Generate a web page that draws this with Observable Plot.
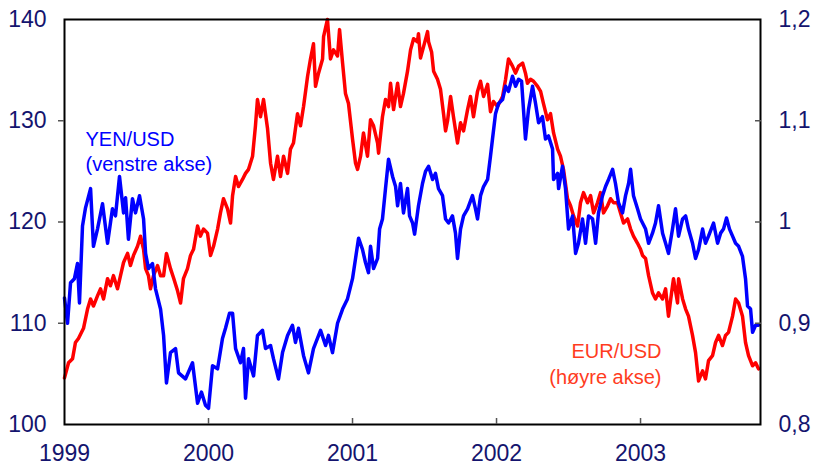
<!DOCTYPE html>
<html><head><meta charset="utf-8">
<script src="https://cdn.jsdelivr.net/npm/d3@7"></script>
<script src="https://cdn.jsdelivr.net/npm/@observablehq/plot@0.6"></script>
<style>
html,body{margin:0;padding:0;background:#fff;}
#chart{width:815px;height:468px;}
</style></head><body><div id="chart"></div>
<script>
// Tick labels
const years = [1999, 2000, 2001, 2002, 2003];
const yenTicks = [100, 110, 120, 130, 140];
const eurTicks = [0.8, 0.9, 1.0, 1.1, 1.2];

// Series labels
const yenLabel = "YEN/USD\n(venstre akse)";
const eurLabel = "EUR/USD\n(høyre akse)";

// YEN/USD (left axis), time in decimal years
const yenT = [1999.000,1999.021,1999.042,1999.069,1999.090,1999.104,1999.125,1999.146,1999.181,1999.201,1999.229,1999.264,1999.299,1999.333,1999.354,1999.382,1999.410,1999.424,1999.444,1999.472,1999.493,1999.521,1999.549,1999.563,1999.583,1999.611,1999.632,1999.667,1999.688,1999.708,1999.736,1999.771,1999.792,1999.840,1999.889,1999.924,1999.951,1999.979,2000.000,2000.028,2000.063,2000.097,2000.118,2000.146,2000.167,2000.188,2000.222,2000.243,2000.257,2000.278,2000.313,2000.340,2000.375,2000.396,2000.431,2000.451,2000.486,2000.514,2000.549,2000.583,2000.604,2000.625,2000.660,2000.694,2000.729,2000.778,2000.813,2000.833,2000.861,2000.896,2000.931,2000.965,2001.000,2001.021,2001.042,2001.069,2001.090,2001.111,2001.125,2001.146,2001.174,2001.188,2001.208,2001.229,2001.250,2001.278,2001.299,2001.313,2001.333,2001.354,2001.382,2001.396,2001.417,2001.431,2001.458,2001.486,2001.507,2001.528,2001.556,2001.576,2001.597,2001.625,2001.646,2001.667,2001.694,2001.715,2001.729,2001.750,2001.771,2001.799,2001.833,2001.854,2001.868,2001.889,2001.910,2001.938,2001.958,2001.972,2001.993,2002.014,2002.042,2002.063,2002.083,2002.111,2002.132,2002.153,2002.174,2002.201,2002.222,2002.250,2002.271,2002.292,2002.319,2002.340,2002.361,2002.389,2002.396,2002.424,2002.431,2002.458,2002.479,2002.493,2002.500,2002.528,2002.549,2002.569,2002.597,2002.618,2002.639,2002.667,2002.688,2002.708,2002.736,2002.757,2002.778,2002.806,2002.826,2002.847,2002.875,2002.896,2002.917,2002.931,2002.951,2002.979,2003.000,2003.014,2003.035,2003.056,2003.083,2003.104,2003.125,2003.153,2003.174,2003.194,2003.222,2003.243,2003.264,2003.292,2003.313,2003.333,2003.361,2003.382,2003.403,2003.431,2003.451,2003.472,2003.507,2003.535,2003.556,2003.576,2003.597,2003.618,2003.639,2003.660,2003.681,2003.708,2003.729,2003.743,2003.764,2003.778,2003.799,2003.819];
const yenV = [112.5,110.0,114.0,114.4,115.9,112.0,119.6,121.4,123.3,117.6,119.3,121.8,117.9,121.3,120.6,124.5,120.9,122.4,118.3,122.3,120.9,122.6,120.3,116.9,115.4,115.9,113.4,111.4,108.8,104.1,107.1,107.5,105.1,104.5,106.1,102.1,103.2,101.9,101.6,105.8,105.5,108.5,109.5,111.0,111.0,107.5,106.1,107.5,102.6,106.5,104.8,108.8,109.3,107.5,107.8,106.5,104.5,107.1,108.8,109.8,108.1,109.5,106.8,105.1,107.5,109.3,107.8,108.8,107.1,110.0,111.4,112.4,114.4,116.4,118.4,117.3,116.0,115.0,117.6,115.4,116.4,119.3,120.3,123.3,126.2,124.5,123.5,121.6,123.8,120.9,123.3,120.6,119.9,118.8,121.6,123.8,125.0,125.5,124.2,124.8,123.3,122.6,120.3,119.9,120.6,118.9,116.4,119.3,120.6,121.3,122.6,121.3,120.3,122.6,123.5,124.2,126.5,128.2,130.7,131.7,132.1,133.4,132.9,134.4,133.4,134.1,133.9,128.2,131.1,133.4,131.7,129.8,130.4,128.2,128.5,127.2,124.2,124.8,123.3,125.5,123.3,120.6,119.3,120.6,116.9,117.9,120.3,117.9,120.6,120.3,117.9,120.9,122.6,123.5,124.2,125.2,123.8,121.9,120.9,122.6,123.8,125.2,122.6,121.3,120.3,119.9,119.3,117.9,118.9,119.9,121.6,118.9,117.9,116.9,119.3,121.3,118.6,120.3,120.6,119.3,117.9,116.4,117.3,119.3,117.9,118.6,119.9,117.9,118.9,119.3,120.4,119.3,118.6,117.9,117.6,116.6,114.4,111.7,111.4,109.1,109.8,109.8];

// EUR/USD (right axis)
const eurT = [1999.000,1999.028,1999.056,1999.076,1999.097,1999.132,1999.160,1999.181,1999.201,1999.229,1999.250,1999.271,1999.299,1999.319,1999.340,1999.368,1999.389,1999.410,1999.438,1999.458,1999.479,1999.507,1999.528,1999.549,1999.563,1999.583,1999.597,1999.618,1999.646,1999.667,1999.688,1999.708,1999.736,1999.757,1999.785,1999.806,1999.826,1999.854,1999.875,1999.896,1999.924,1999.944,1999.965,1999.993,2000.014,2000.035,2000.063,2000.083,2000.104,2000.132,2000.153,2000.167,2000.188,2000.208,2000.236,2000.257,2000.278,2000.306,2000.326,2000.340,2000.361,2000.382,2000.410,2000.431,2000.451,2000.479,2000.500,2000.521,2000.549,2000.569,2000.590,2000.618,2000.639,2000.660,2000.688,2000.708,2000.729,2000.743,2000.764,2000.792,2000.799,2000.826,2000.847,2000.868,2000.896,2000.910,2000.931,2000.951,2000.972,2001.000,2001.021,2001.035,2001.056,2001.076,2001.104,2001.125,2001.146,2001.174,2001.181,2001.208,2001.229,2001.250,2001.264,2001.285,2001.313,2001.333,2001.354,2001.382,2001.403,2001.424,2001.451,2001.458,2001.472,2001.493,2001.521,2001.528,2001.549,2001.563,2001.590,2001.611,2001.632,2001.646,2001.660,2001.681,2001.701,2001.729,2001.750,2001.771,2001.799,2001.819,2001.840,2001.868,2001.889,2001.910,2001.938,2001.958,2001.979,2002.007,2002.042,2002.063,2002.083,2002.111,2002.132,2002.153,2002.181,2002.201,2002.215,2002.236,2002.257,2002.285,2002.306,2002.326,2002.354,2002.375,2002.396,2002.424,2002.444,2002.465,2002.493,2002.514,2002.535,2002.563,2002.583,2002.604,2002.632,2002.653,2002.674,2002.701,2002.722,2002.743,2002.771,2002.792,2002.813,2002.840,2002.861,2002.882,2002.910,2002.931,2002.951,2002.979,2003.000,2003.014,2003.035,2003.056,2003.083,2003.104,2003.125,2003.153,2003.174,2003.194,2003.222,2003.229,2003.257,2003.264,2003.292,2003.313,2003.333,2003.361,2003.382,2003.403,2003.431,2003.451,2003.472,2003.500,2003.521,2003.542,2003.569,2003.590,2003.611,2003.639,2003.660,2003.681,2003.708,2003.729,2003.750,2003.778,2003.799,2003.819];
const eurV = [0.846,0.861,0.865,0.881,0.885,0.895,0.914,0.924,0.917,0.927,0.934,0.924,0.944,0.937,0.947,0.934,0.947,0.960,0.969,0.957,0.967,0.976,0.986,0.973,0.954,0.947,0.934,0.947,0.957,0.947,0.947,0.969,0.954,0.945,0.932,0.920,0.944,0.954,0.967,0.973,0.996,0.986,0.993,0.989,0.967,0.976,0.993,1.009,1.023,1.013,0.999,1.026,1.045,1.035,1.042,1.048,1.052,1.065,1.095,1.121,1.104,1.121,1.092,1.058,1.042,1.065,1.045,1.065,1.048,1.072,1.078,1.107,1.095,1.114,1.144,1.161,1.176,1.134,1.147,1.161,1.183,1.200,1.161,1.170,1.164,1.190,1.157,1.127,1.117,1.082,1.058,1.052,1.065,1.088,1.065,1.101,1.095,1.078,1.068,1.104,1.121,1.114,1.137,1.111,1.137,1.114,1.127,1.149,1.170,1.181,1.178,1.186,1.162,1.173,1.188,1.178,1.168,1.149,1.141,1.131,1.107,1.090,1.100,1.124,1.104,1.078,1.098,1.090,1.111,1.124,1.104,1.129,1.139,1.124,1.136,1.109,1.119,1.114,1.124,1.141,1.161,1.154,1.147,1.154,1.157,1.147,1.137,1.141,1.139,1.134,1.129,1.117,1.101,1.107,1.088,1.072,1.065,1.052,1.023,1.016,1.006,0.996,1.019,1.029,1.019,1.026,1.009,1.019,1.029,1.009,1.016,1.023,1.019,1.019,1.009,0.999,1.003,0.993,0.986,0.979,0.973,0.967,0.964,0.947,0.930,0.924,0.930,0.924,0.934,0.907,0.937,0.944,0.920,0.944,0.924,0.914,0.907,0.888,0.871,0.843,0.853,0.845,0.863,0.868,0.881,0.888,0.878,0.888,0.891,0.907,0.924,0.920,0.907,0.881,0.868,0.858,0.861,0.855];

const yen = yenT.slice(0, Math.min(yenT.length, yenV.length)).map((t, i) => ({t, v: yenV[i]}));
const eur = eurT.slice(0, Math.min(eurT.length, eurV.length)).map((t, i) => ({t, v: eurV[i]}));

// map the right-axis (EUR) scale onto the left-axis (YEN) scale
const eurToLeft = e => yenTicks[0] + (e - eurTicks[0]) * (yenTicks[4] - yenTicks[0]) / (eurTicks[4] - eurTicks[0]);
const fmtEur = e => String(Math.round(e * 10) / 10).replace(".", ",");

const navy = "#14146e";
const tickGray = "#555";
const font = "'Liberation Sans', Arial, Helvetica, sans-serif";

const chart = Plot.plot({
  width: 815,
  height: 468,
  marginLeft: 64,
  marginRight: 55,
  marginTop: 19,
  marginBottom: 44,
  style: {fontFamily: font, background: "#fff"},
  x: {type: "linear", domain: [1999, 2003.833], axis: null},
  y: {domain: [yenTicks[0], yenTicks[4]], axis: null},
  marks: [
    // EUR/USD line (right axis)
    Plot.line(eur, {x: "t", y: d => eurToLeft(d.v), stroke: "#ff0000", strokeWidth: 3.5}),
    // YEN/USD line (left axis)
    Plot.line(yen, {x: "t", y: "v", stroke: "#0000ff", strokeWidth: 3.5}),
    Plot.frame({stroke: "#000", strokeWidth: 2}),
    // left axis: outward ticks + labels
    Plot.axisY({anchor: "left", ticks: yenTicks.slice(1, 4), tickSize: 6, tickFormat: () => "", stroke: tickGray, strokeWidth: 1.5, label: null}),
    Plot.axisY({anchor: "left", ticks: yenTicks, tickSize: 0, tickPadding: 18, tickFormat: d => String(d), fill: navy, fontSize: 23, label: null}),
    // right axis: inward ticks + labels
    Plot.axisY({anchor: "right", ticks: eurTicks.slice(1, 4).map(eurToLeft), tickSize: 6, dx: -6, tickFormat: () => "", stroke: tickGray, strokeWidth: 1.5, label: null}),
    Plot.axisY({anchor: "right", ticks: eurTicks.map(eurToLeft), tickSize: 0, tickPadding: 18, tickFormat: d => fmtEur(eurTicks[0] + (d - yenTicks[0]) / 100), fill: navy, fontSize: 23, label: null}),
    // bottom axis: inward ticks + labels
    Plot.axisX({anchor: "bottom", ticks: years.slice(1), tickSize: 6, dy: -6, tickFormat: () => "", stroke: tickGray, strokeWidth: 1.5, label: null}),
    Plot.axisX({anchor: "bottom", ticks: years, tickSize: 0, tickPadding: 20, tickFormat: d => String(d), fill: navy, fontSize: 23, label: null}),
    // series labels
    Plot.text([yenLabel], {frameAnchor: "top-left", dx: 21, dy: 109, textAnchor: "start", lineAnchor: "top", lineHeight: 1.25, fontSize: 20, fill: "#0000ff"}),
    Plot.text([eurLabel], {frameAnchor: "top-right", dx: -99, dy: 320, textAnchor: "end", lineAnchor: "top", lineHeight: 1.3, fontSize: 20, fill: "#ff3c1e"})
  ]
});
document.getElementById("chart").appendChild(chart);
</script>
</body></html>
